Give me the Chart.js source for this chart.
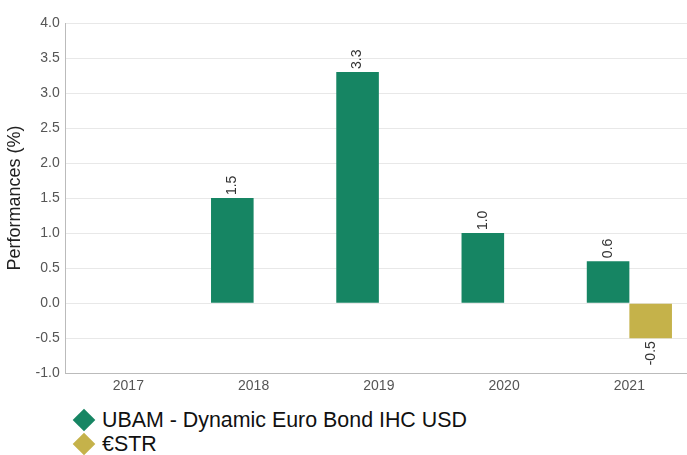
<!DOCTYPE html>
<html>
<head>
<meta charset="utf-8">
<script src="https://cdn.jsdelivr.net/npm/chart.js@4"></script>
<style>
    body { margin: 0; overflow: hidden; background: #fff; font-family: Arial, "Liberation Sans", sans-serif; }
    #wrap { position: relative; width: 692px; height: 400px; }
    #legend { position: absolute; left: 72px; top: 408px; font-size: 21.4px; color: #111; line-height: 24px; }
    .item { display: flex; align-items: center; }
    .dia { width: 16px; height: 16px; transform: rotate(45deg); margin: 0 10px 0 4px; }
</style>
</head>
<body>
<div id="wrap"><canvas id="perf"></canvas></div>
<div id="legend"></div>
<script>
const years = ["2017", "2018", "2019", "2020", "2021"];
const fundName = "UBAM - Dynamic Euro Bond IHC USD";
const benchName = "€STR";
const fundPerf = [null, 1.5, 3.3, 1.0, 0.6];
const benchPerf = [null, null, null, null, -0.5];
const green = "#168563";
const gold = "#c5b24a";

// rotated value labels above / below each bar
const barLabels = {
    id: "barLabels",
    afterDatasetsDraw(chart) {
        const ctx = chart.ctx;
        ctx.save();
        ctx.font = "14px Arial, 'Liberation Sans'";
        ctx.fillStyle = "#333";
        chart.data.datasets.forEach((ds, i) => {
            chart.getDatasetMeta(i).data.forEach((bar, j) => {
                const v = ds.data[j];
                if (v === null) return;
                ctx.save();
                ctx.translate(bar.x, bar.y);
                ctx.rotate(-Math.PI / 2);
                ctx.textBaseline = "middle";
                if (v >= 0) {
                    ctx.textAlign = "left";
                    ctx.fillText(v.toFixed(1), 3, 0);
                } else {
                    ctx.textAlign = "right";
                    ctx.fillText(v.toFixed(1), -3, 0);
                }
                ctx.restore();
            });
        });
        ctx.restore();
    }
};

new Chart(document.getElementById("perf"), {
    type: "bar",
    data: {
        labels: years,
        datasets: [
            { label: fundName, data: fundPerf, backgroundColor: green },
            { label: benchName, data: benchPerf, backgroundColor: gold }
        ]
    },
    options: {
        responsive: true,
        maintainAspectRatio: false,
        animation: false,
        layout: { padding: { top: 23, left: 4, right: 0 } },
        datasets: { bar: { categoryPercentage: 0.68, barPercentage: 1.0 } },
        plugins: {
            legend: { display: false },
            tooltip: { enabled: false }
        },
        scales: {
            x: {
                grid: { display: false, drawTicks: false },
                border: { color: "#bbb" },
                ticks: { color: "#555", font: { size: 14, family: "Arial" }, padding: 5 }
            },
            y: {
                min: -1,
                max: 4,
                ticks: {
                    stepSize: 0.5,
                    color: "#555",
                    font: { size: 14, family: "Arial" },
                    padding: 6,
                    callback: v => v.toFixed(1)
                },
                grid: { color: "#e8e8e8", drawTicks: false },
                border: { color: "#bbb" },
                title: { display: true, text: "Performances (%)", color: "#222", font: { size: 18, family: "Arial" }, padding: { top: 0, bottom: 4 } }
            }
        }
    },
    plugins: [barLabels]
});

const legend = document.getElementById("legend");
[[fundName, green], [benchName, gold]].forEach(([name, col]) => {
    const row = document.createElement("div");
    row.className = "item";
    row.innerHTML = '<span class="dia" style="background:' + col + '"></span><span>' + name + '</span>';
    legend.appendChild(row);
});
</script>
</body>
</html>
